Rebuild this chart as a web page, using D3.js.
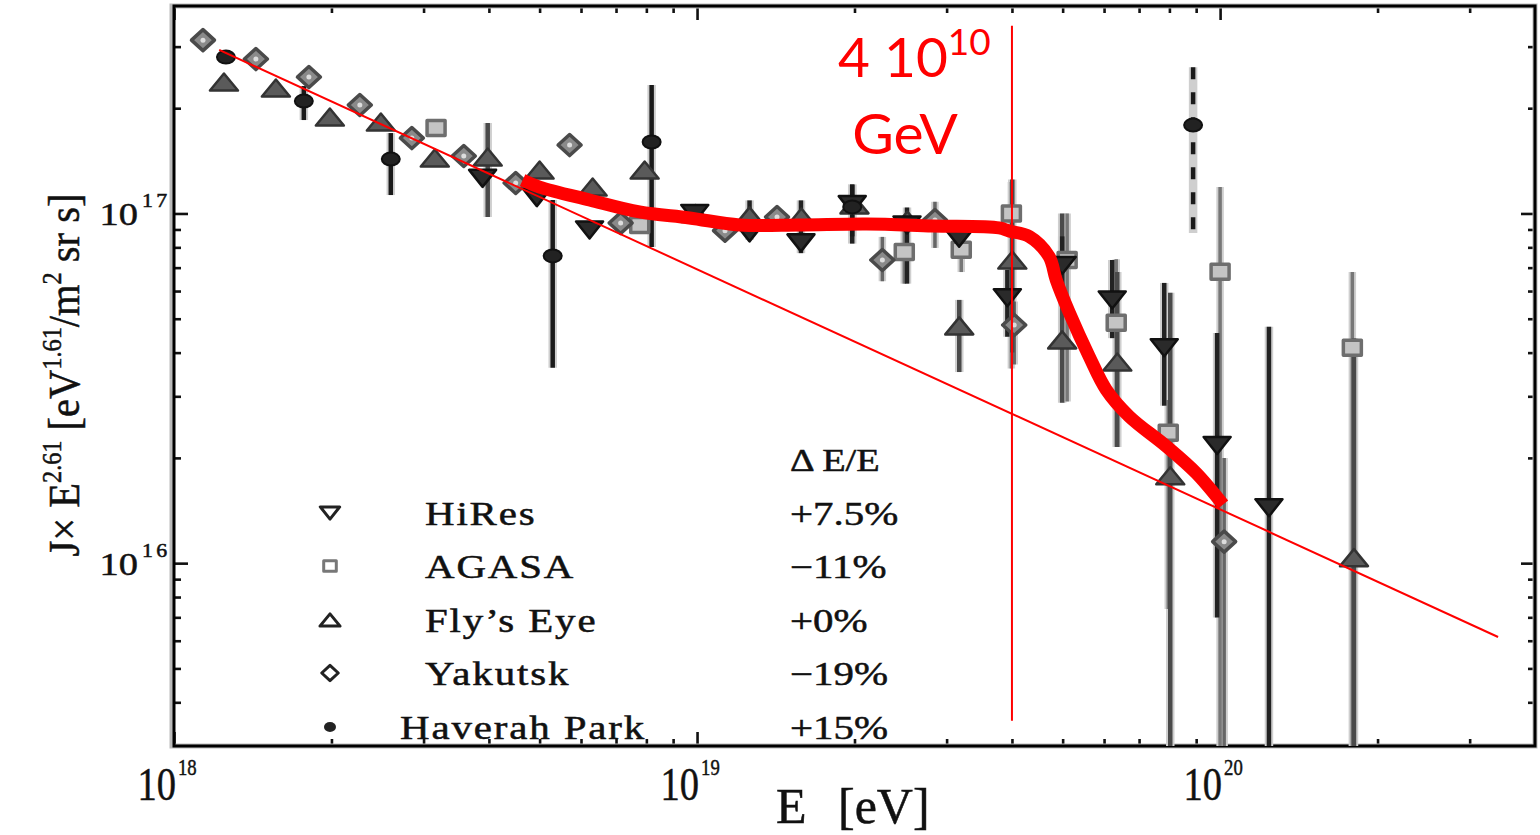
<!DOCTYPE html>
<html>
<head>
<meta charset="utf-8">
<script src="https://cdn.jsdelivr.net/npm/d3@7"></script>
<style>
  body { margin: 0; background: #fff; }
  svg { display: block; }
  .serif { font-family: "Liberation Serif", "DejaVu Serif", serif; fill: #111; stroke: #111; stroke-width: 0.5px; }
  .sans { font-family: Lato, "Open Sans", "Liberation Sans", sans-serif; }
</style>
</head>
<body>
<svg id="chart" width="1540" height="835"></svg>
<script>
// ---- measured spectrum, J x E^2.61 [eV^1.61 / m^2 sr s] ----
// each row: energy [eV], flux, lower error, upper error (null = no bar drawn)
const hiresE  = [3.89e18, 4.94e18, 6.23e18, 9.9e18, 1.26e19, 1.58e19, 1.98e19, 2.52e19, 3.17e19, 3.92e19, 4.99e19, 6.22e19, 7.82e19, 9.87e19, 1.24e20];
const hiresJ  = [1.26e17, 1.11e17, 8.97e16, 1.0e17, 8.8e16, 8.24e16, 1.06e17, 9.27e16, 8.5e16, 5.74e16, 7.1e16, 5.66e16, 4.13e16, 2.17e16, 1.44e16];
const hiresLo = [null, null, null, null, 8.4e16, 7.7e16, 8.2e16, 6.3e16, null, 4.44e16, 5.8e16, 4.4e16, 2.82e16, 6.99e15, 1e15];
const hiresHi = [null, null, null, null, 1.09e17, 1.09e17, 1.21e17, 1.04e17, null, 6.9e16, 8.6e16, 7.36e16, 6.33e16, 4.55e16, 4.74e16];

const agasaE  = [3.17e18, 7.77e18, 2.49e19, 3.2e19, 3.99e19, 5.1e19, 6.33e19, 7.96e19, 1.0e20, 1.79e20];
const agasaJ  = [1.755e17, 9.27e16, 7.76e16, 7.87e16, 1.0e17, 7.36e16, 4.87e16, 2.36e16, 6.81e16, 4.13e16];
const agasaLo = [null, null, 6.3e16, 6.8e16, 3.6e16, 2.9e16, 2.15e16, 7.4e15, 1e15, 1e15];
const agasaHi = [null, null, 9.6e16, 9.5e16, 1.23e17, 1.0e17, 7.4e16, 2.93e16, 1.19e17, 6.8e16];

const flyE  = [1.246e18, 1.566e18, 1.986e18, 2.486e18, 3.152e18, 3.979e18, 5.0e18, 6.315e18, 7.94e18, 9.93e18, 1.26e19, 1.583e19, 2.0e19, 2.524e19, 3.172e19, 4.006e19, 4.99e19, 6.36e19, 8.03e19, 1.803e20];
const flyJ  = [2.376e17, 2.284e17, 1.887e17, 1.826e17, 1.441e17, 1.45e17, 1.331e17, 1.19e17, 1.331e17, 1.0e17, 9.84e16, 9.77e16, 1.058e17, 9.58e16, 4.77e16, 7.36e16, 4.35e16, 3.76e16, 1.778e16, 1.037e16];
const flyLo = [null, null, null, null, null, 9.77e16, null, null, null, null, null, null, null, null, 3.52e16, 4.0e16, 2.875e16, 2.15e16, 1e15, 1e15];
const flyHi = [null, null, null, null, null, 1.814e17, null, null, null, null, null, null, null, null, 5.66e16, 1.25e17, 1.0e17, 6.8e16, 5.93e16, 4.4e16];

const yakE  = [1.136e18, 1.434e18, 1.811e18, 2.266e18, 2.849e18, 3.581e18, 4.501e18, 5.706e18, 7.144e18, 1.131e19, 1.422e19, 2.261e19, 2.85e19, 4.04e19, 1.018e20];
const yakJ  = [3.131e17, 2.764e17, 2.455e17, 2.042e17, 1.643e17, 1.46e17, 1.222e17, 1.569e17, 9.395e16, 8.93e16, 9.77e16, 7.36e16, 9.58e16, 4.8e16, 1.152e16];
const yakLo = [null, null, null, null, null, null, null, null, null, null, null, 6.4e16, 7.97e16, 3.7e16, 1e15];
const yakHi = [null, null, null, null, null, null, null, null, null, null, null, 8.57e16, 1.08e17, 5.6e16, 2.0e16];

const hpE  = [1.257e18, 1.771e18, 2.597e18, 5.297e18, 8.188e18, 1.98e19, 8.88e19];
const hpJ  = [2.8e17, 2.096e17, 1.431e17, 7.56e16, 1.601e17, 1.044e17, 1.79e17];
const hpLo = [null, 1.85e17, 1.129e17, 3.62e16, 8.02e16, 8.6e16, 8.8e16];
const hpHi = [null, 2.314e17, 1.698e17, 1.093e17, 2.329e17, 1.21e17, 2.62e17];

// legend
const legendNames  = ["HiRes", "AGASA", "Fly\u2019s Eye", "Yakutsk", "Haverah Park"];
const legendShifts = ["+7.5%", "\u221211%", "+0%", "\u221219%", "+15%"];

// power-law fit (two end points) and GZK-like cutoff curve
const fitE = [1.22e18, 3.4e20];
const fitJ = [2.935e17, 6.15e15];
const cutE = 4e19;              // 4 10^10 GeV
const cutLineJ = [3.44e17, 3.54e15];
const curveE = [4.64e18, 5.0e18, 6.23e18, 7.76e18, 9.67e18, 1.206e19, 1.57e19, 2.11e19, 2.82e19, 3.78e19, 3.95e19, 4.32e19, 4.71e19, 4.86e19, 5.15e19, 5.62e19, 6.06e19, 6.70e19, 7.89e19, 9.0e19, 1.013e20];
const curveJ = [1.246e17, 1.19e17, 1.093e17, 1.01e17, 9.71e16, 9.27e16, 9.27e16, 9.33e16, 9.21e16, 9.09e16, 8.91e16, 8.59e16, 7.53e16, 6.46e16, 5.20e16, 3.90e16, 3.13e16, 2.63e16, 2.16e16, 1.81e16, 1.47e16];

// axis ticks
const xMajor = [1e18, 1e19, 1e20];
const yMajor = [1e16, 1e17];

// ---- layout ----
const plot = { left: 174, top: 6, right: 1535, bottom: 746 };
const x = d3.scaleLog().domain([1e18, 4e20]).range([plot.left, plot.right]);
const y = d3.scaleLog().domain([3.0e15, 3.92e17]).range([plot.bottom, plot.top]);

const svg = d3.select("#chart");

svg.append("defs").append("clipPath").attr("id", "plotClip")
  .append("rect")
  .attr("x", plot.left).attr("y", plot.top)
  .attr("width", plot.right - plot.left).attr("height", plot.bottom - plot.top);

// ---- axes: ticks drawn inward on all four sides ----
const xMinor = x.ticks().filter(v => !xMajor.includes(v));
const yMinor = y.ticks().filter(v => !yMajor.includes(v));

function tickAxis(axisFn, scale, values, size, transform) {
  const g = svg.append("g").attr("transform", transform)
    .call(axisFn(scale).tickValues(values).tickSize(size).tickFormat(""));
  g.select(".domain").remove();
  g.selectAll(".tick line").attr("stroke", "#111").attr("stroke-width", 2.6);
  return g;
}
const majLen = 14, minLen = 7;
tickAxis(d3.axisBottom, x, xMajor, -majLen, `translate(0,${plot.bottom})`);
tickAxis(d3.axisBottom, x, xMinor, -minLen, `translate(0,${plot.bottom})`);
tickAxis(d3.axisTop, x, xMajor, -majLen, `translate(0,${plot.top})`);
tickAxis(d3.axisTop, x, xMinor, -minLen, `translate(0,${plot.top})`);
tickAxis(d3.axisLeft, y, yMajor, -majLen, `translate(${plot.left},0)`);
tickAxis(d3.axisLeft, y, yMinor, -minLen, `translate(${plot.left},0)`);
tickAxis(d3.axisRight, y, yMajor, -majLen, `translate(${plot.right},0)`);
tickAxis(d3.axisRight, y, yMinor, -minLen, `translate(${plot.right},0)`);

// frame (with a soft grey edge like a scanned print)
svg.append("rect")
  .attr("x", plot.left - 2).attr("y", plot.top)
  .attr("width", plot.right - plot.left + 2).attr("height", plot.bottom - plot.top)
  .attr("fill", "none").attr("stroke", "#bbb").attr("stroke-width", 5);
svg.append("rect")
  .attr("x", plot.left).attr("y", plot.top)
  .attr("width", plot.right - plot.left).attr("height", plot.bottom - plot.top)
  .attr("fill", "none").attr("stroke", "#000").attr("stroke-width", 3);

// tick labels: 10^n
xMajor.forEach(v => {
  const n = Math.round(Math.log10(v));
  const px = x(v);
  svg.append("text").attr("class", "serif")
    .attr("transform", `translate(${px + 2},800) scale(0.82,1)`)
    .attr("text-anchor", "end").attr("font-size", 47)
    .text("10");
  svg.append("text").attr("class", "serif")
    .attr("transform", `translate(${px + 4},775) scale(0.78,1)`)
    .attr("font-size", 24)
    .text(n);
});
yMajor.forEach(v => {
  const n = Math.round(Math.log10(v));
  const py = y(v);
  svg.append("text").attr("class", "serif")
    .attr("transform", `translate(${138},${py + 12}) scale(1.2,1)`)
    .attr("text-anchor", "end").attr("font-size", 32)
    .text("10");
  svg.append("text").attr("class", "serif")
    .attr("transform", `translate(${142},${py - 6}) scale(1.15,1)`)
    .attr("font-size", 19).attr("letter-spacing", 3)
    .text(n);
});

// axis titles
const xt = svg.append("text").attr("class", "serif").attr("y", 823).attr("font-size", 50);
xt.append("tspan").attr("x", 776).text("E");
xt.append("tspan").attr("x", 838).text("[eV]");

const yt = svg.append("text").attr("class", "serif")
  .attr("transform", "translate(79,375) rotate(-90) scale(0.9,1)")
  .attr("text-anchor", "middle").attr("font-size", 45);
yt.append("tspan").text("J\u00d7 E");
yt.append("tspan").attr("font-size", 27).attr("dy", -18).text("2.61");
yt.append("tspan").attr("dy", 18).text(" [eV");
yt.append("tspan").attr("font-size", 27).attr("dy", -18).text("1.61");
yt.append("tspan").attr("dy", 18).text("/m");
yt.append("tspan").attr("font-size", 27).attr("dy", -18).text("2");
yt.append("tspan").attr("dy", 18).text(" sr s]");

// ---- marker shapes ----
function markerPath(kind, w, h) {
  const a = w / 2, b = h / 2;
  switch (kind) {
    case "down": return `M${-a},${-b}L${a},${-b}L0,${b}Z`;
    case "up": return `M0,${-b}L${a},${b}L${-a},${b}Z`;
    case "diamond": return `M0,${-b}L${a},0L0,${b}L${-a},0Z`;
    case "square": return `M${-a},${-b}L${a},${-b}L${a},${b}L${-a},${b}Z`;
  }
}
const styles = {
  hires:   { kind: "down",    w: 27, h: 17, fill: "#2a2a2a", stroke: "#111", sw: 2.5, bar: "#222", bw: 4.5 },
  agasa:   { kind: "square",  w: 18, h: 15, fill: "#c4c4c4", stroke: "#6e6e6e", sw: 3.5, bar: "#777", bw: 3.5 },
  fly:     { kind: "up",      w: 28, h: 17, fill: "#5a5a5a", stroke: "#333", sw: 2.5, bar: "#4a4a4a", bw: 4.5 },
  yakutsk: { kind: "diamond", w: 23, h: 21, fill: "#8a8a8a", stroke: "#4a4a4a", sw: 3.5, bar: "#666", bw: 3.5 },
  hp:      { kind: "circle",  w: 18, h: 13, fill: "#222", stroke: "#111", sw: 2, bar: "#1a1a1a", bw: 4.5 }
};

function rows(E, J, lo, hi) {
  return E.map((e, i) => ({ e, j: J[i], lo: lo[i], hi: hi[i] }));
}
const series = [
  { key: "agasa",   data: rows(agasaE, agasaJ, agasaLo, agasaHi) },
  { key: "yakutsk", data: rows(yakE, yakJ, yakLo, yakHi) },
  { key: "fly",     data: rows(flyE, flyJ, flyLo, flyHi) },
  { key: "hires",   data: rows(hiresE, hiresJ, hiresLo, hiresHi) },
  { key: "hp",      data: rows(hpE, hpJ, hpLo, hpHi) }
];

const dataG = svg.append("g").attr("clip-path", "url(#plotClip)");

// error bars: soft halo first, then the bar itself
series.forEach(s => {
  const st = styles[s.key];
  const withBars = s.data.filter(d => d.lo != null);
  dataG.append("g").selectAll("line").data(withBars).join("line")
    .attr("x1", d => x(d.e)).attr("x2", d => x(d.e))
    .attr("y1", d => y(d.hi)).attr("y2", d => y(d.lo))
    .attr("stroke", "#cfcfcf").attr("stroke-width", st.bw + 4);
});
series.forEach(s => {
  const st = styles[s.key];
  const withBars = s.data.filter(d => d.lo != null);
  dataG.append("g").selectAll("line").data(withBars).join("line")
    .attr("x1", d => x(d.e)).attr("x2", d => x(d.e))
    .attr("y1", d => y(d.hi)).attr("y2", d => y(d.lo))
    .attr("stroke", st.bar).attr("stroke-width", st.bw)
    // the Haverah Park point near 9e19 eV carries a dashed bar
    .attr("stroke-dasharray", d => (s.key === "hp" && d.e > 5e19) ? "12,13" : null);
});

function drawMarker(g, key, cx, cy, scale) {
  const st = styles[key];
  if (st.kind === "circle") {
    g.append("ellipse").attr("cx", cx).attr("cy", cy)
      .attr("rx", st.w / 2 * scale).attr("ry", st.h / 2 * scale)
      .attr("fill", st.fill).attr("stroke", st.stroke).attr("stroke-width", st.sw);
  } else {
    g.append("path").attr("d", markerPath(st.kind, st.w * scale, st.h * scale))
      .attr("transform", `translate(${cx},${cy})`)
      .attr("fill", st.fill).attr("stroke", st.stroke).attr("stroke-width", st.sw)
      .attr("stroke-linejoin", "round");
    if (st.kind === "diamond") {
      g.append("circle").attr("cx", cx).attr("cy", cy).attr("r", 2.5 * scale).attr("fill", "#ddd");
    }
  }
}
series.forEach(s => {
  const g = dataG.append("g");
  s.data.forEach(d => drawMarker(g, s.key, x(d.e), y(d.j), 1));
});

// ---- red annotations ----
const redG = svg.append("g");
redG.append("line")
  .attr("x1", x(fitE[0])).attr("y1", y(fitJ[0]))
  .attr("x2", x(fitE[1])).attr("y2", y(fitJ[1]))
  .attr("stroke", "#ff0000").attr("stroke-width", 2);
redG.append("line")
  .attr("x1", x(cutE)).attr("x2", x(cutE))
  .attr("y1", y(cutLineJ[0])).attr("y2", y(cutLineJ[1]))
  .attr("stroke", "#ff0000").attr("stroke-width", 2);
const curvePts = curveE.map((e, i) => [e, curveJ[i]]);
redG.append("path")
  .attr("d", d3.line().x(d => x(d[0])).y(d => y(d[1])).curve(d3.curveCatmullRom.alpha(0.5))(curvePts))
  .attr("fill", "none").attr("stroke", "#ff0000").attr("stroke-width", 13)
  .attr("stroke-linejoin", "round");

const lab = redG.append("text").attr("class", "sans").attr("x", 838).attr("y", 77)
  .attr("font-size", 55).attr("fill", "#ff0000");
lab.append("tspan").text("4 10");
lab.append("tspan").attr("font-size", 37).attr("dy", -22).text("10");
redG.append("text").attr("class", "sans").attr("x", 905).attr("y", 154).attr("text-anchor", "middle")
  .attr("font-size", 57).attr("fill", "#ff0000")
  .text("GeV");

// ---- legend ----
const legG = svg.append("g");
const rowY = [513, 566, 620, 673, 727];
const legKeys = ["hires", "agasa", "fly", "yakutsk", "hp"];
legG.append("text").attr("class", "serif")
  .attr("transform", "translate(790,471) scale(1.2,1)")
  .attr("font-size", 32).text("\u0394 E/E");
legendNames.forEach((name, i) => {
  const k = legKeys[i];
  const st = styles[k];
  const mg = legG.append("g");
  if (st.kind === "circle") {
    mg.append("ellipse").attr("cx", 330).attr("cy", rowY[i])
      .attr("rx", 6).attr("ry", 5).attr("fill", "#222");
  } else {
    const sc = st.kind === "square" ? 0.7 : 0.72;
    mg.append("path").attr("d", markerPath(st.kind, st.w * sc, st.h * sc))
      .attr("transform", `translate(330,${rowY[i]})`)
      .attr("fill", "#fff").attr("stroke", st.kind === "square" ? "#777" : "#222")
      .attr("stroke-width", 3).attr("stroke-linejoin", "round");
  }
  legG.append("text").attr("class", "serif")
    .attr("transform", `translate(${i === 4 ? 400 : 425},${rowY[i] + 12}) scale(1.24,1)`)
    .attr("font-size", 33).attr("letter-spacing", 1.5).text(name);
  legG.append("text").attr("class", "serif")
    .attr("transform", `translate(790,${rowY[i] + 12}) scale(1.24,1)`)
    .attr("font-size", 33).text(legendShifts[i]);
});
</script>
</body>
</html>
